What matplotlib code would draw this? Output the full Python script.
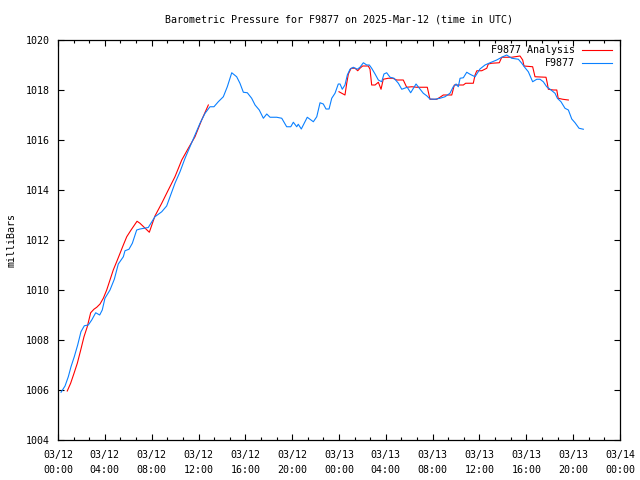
import numpy as np
import matplotlib
matplotlib.use("Agg")
import matplotlib.pyplot as plt
from matplotlib.ticker import MultipleLocator

# hours since 2025-03-12 00:00 UTC
obs_hours = [0.26, 0.60, 0.88, 1.11, 1.39, 1.68, 1.96, 2.25, 2.59, 2.88, 3.22, 3.56, 3.78,
             4.01, 4.44, 4.81, 5.15, 5.58, 5.72, 6.06, 6.35, 6.72, 7.00, 7.71, 8.28, 8.86,
             9.28, 9.57, 9.99, 10.42, 10.85, 11.27, 11.70, 12.13, 12.56, 12.98, 13.32,
             13.69, 14.12, 14.46, 14.84, 15.26, 15.54, 15.83, 16.17, 16.54, 16.83, 17.19,
             17.54, 17.83, 18.11, 18.68, 19.11, 19.53, 19.88, 20.10, 20.39, 20.52, 20.78,
             21.29, 21.81, 22.10, 22.38, 22.66, 22.89, 23.15, 23.38, 23.66, 23.94, 24.09,
             24.28, 24.51, 24.71, 24.94, 25.22, 25.56, 25.79, 26.08, 26.37, 26.59, 26.79,
             27.08, 27.36, 27.65, 27.84, 28.07, 28.36, 28.70, 29.07, 29.36, 29.83, 30.12,
             30.58, 30.86, 31.20, 31.49, 31.77, 32.20, 32.63, 33.05, 33.48, 33.76, 34.00,
             34.19, 34.34, 34.62, 34.91, 35.19, 35.62, 36.04, 36.47, 36.90, 37.47, 37.90,
             38.32, 38.75, 39.32, 39.61, 39.89, 40.17, 40.54, 40.89, 41.17, 41.45, 41.74,
             42.11, 42.45, 42.65, 42.96, 43.30, 43.59, 43.88, 44.16, 44.50, 44.87]
obs_mb = [1005.91, 1006.16, 1006.53, 1006.93, 1007.33, 1007.80, 1008.33, 1008.57, 1008.60,
          1008.80, 1009.09, 1009.00, 1009.20, 1009.67, 1010.00, 1010.43, 1011.04, 1011.33,
          1011.57, 1011.63, 1011.87, 1012.40, 1012.44, 1012.50, 1012.93, 1013.13, 1013.36,
          1013.73, 1014.27, 1014.73, 1015.27, 1015.73, 1016.20, 1016.67, 1017.07, 1017.33,
          1017.33, 1017.53, 1017.73, 1018.13, 1018.69, 1018.53, 1018.27, 1017.91, 1017.89,
          1017.67, 1017.40, 1017.20, 1016.87, 1017.04, 1016.91, 1016.91, 1016.87, 1016.53,
          1016.53, 1016.71, 1016.53, 1016.63, 1016.44, 1016.91, 1016.73, 1016.93, 1017.49,
          1017.44, 1017.24, 1017.24, 1017.67, 1017.87, 1018.24, 1018.24, 1018.03, 1018.20,
          1018.60, 1018.83, 1018.91, 1018.83, 1018.91, 1019.09, 1019.00, 1019.00, 1018.87,
          1018.64, 1018.40, 1018.33, 1018.64, 1018.69, 1018.51, 1018.47, 1018.27, 1018.03,
          1018.11, 1017.89, 1018.24, 1018.07, 1017.87, 1017.77, 1017.64, 1017.63, 1017.67,
          1017.73, 1017.87, 1018.13, 1018.24, 1018.13, 1018.47, 1018.49, 1018.71, 1018.63,
          1018.53, 1018.84, 1019.00, 1019.09, 1019.20, 1019.31, 1019.40, 1019.27, 1019.23,
          1019.07, 1018.89, 1018.73, 1018.33, 1018.43, 1018.43, 1018.33, 1018.13, 1018.00,
          1017.87, 1017.67, 1017.53, 1017.27, 1017.20, 1016.84, 1016.69, 1016.47, 1016.43]

ana_hours = [0.79, 1.08, 1.37, 1.65, 1.94, 2.22, 2.50, 2.79, 3.07, 3.31, 3.59, 3.87, 4.16,
             4.44, 4.72, 5.01, 5.30, 5.58, 5.87, 6.24, 6.75, 7.00, 7.80, 8.28, 8.86, 9.42,
             9.99, 10.57, 11.13, 11.70, 12.27, 12.84,
             18.0,
             24.00, 24.51, 24.66, 24.80, 25.03, 25.37, 25.60, 25.79, 26.02, 26.50, 26.65,
             26.79, 27.08, 27.36, 27.59, 27.78, 28.21, 28.59, 28.93, 29.49, 29.78, 30.21,
             30.64, 31.54, 31.77, 32.35, 32.63, 32.91, 33.63, 33.85, 34.62, 34.82, 35.47,
             35.62, 35.77, 36.19, 36.62, 36.75, 37.04, 37.69, 37.90, 38.75, 39.46, 39.69,
             39.80, 40.54, 40.74, 41.68, 41.79, 41.88, 42.31, 42.60, 42.72, 43.10, 43.59]
ana_mb = [1005.96, 1006.27, 1006.67, 1007.07, 1007.60, 1008.13, 1008.53, 1009.09, 1009.23,
          1009.31, 1009.44, 1009.67, 1010.00, 1010.40, 1010.80, 1011.13, 1011.47, 1011.80,
          1012.13, 1012.40, 1012.75, 1012.67, 1012.31, 1012.96, 1013.47, 1014.00, 1014.53,
          1015.20, 1015.67, 1016.13, 1016.80, 1017.40,
          np.nan,
          1017.93, 1017.80, 1018.27, 1018.64, 1018.87, 1018.87, 1018.77, 1018.87, 1018.96,
          1018.96, 1018.83, 1018.20, 1018.20, 1018.31, 1018.03, 1018.43, 1018.47, 1018.47,
          1018.40, 1018.40, 1018.11, 1018.13, 1018.11, 1018.11, 1017.63, 1017.63, 1017.71,
          1017.80, 1017.80, 1018.20, 1018.20, 1018.27, 1018.27, 1018.60, 1018.77, 1018.77,
          1018.87, 1019.04, 1019.07, 1019.09, 1019.31, 1019.31, 1019.36, 1019.20, 1018.96,
          1018.93, 1018.53, 1018.51, 1018.27, 1018.03, 1018.00, 1018.00, 1017.67, 1017.63,
          1017.60]

xtick_labels = ["03/12\n00:00", "03/12\n04:00", "03/12\n08:00", "03/12\n12:00",
                "03/12\n16:00", "03/12\n20:00", "03/13\n00:00", "03/13\n04:00",
                "03/13\n08:00", "03/13\n12:00", "03/13\n16:00", "03/13\n20:00",
                "03/14\n00:00"]

FONT = "DejaVu Sans Mono"
FS = 7.2
plt.rcParams["font.family"] = FONT
plt.rcParams["font.size"] = FS

fig = plt.figure(figsize=(6.4, 4.8), dpi=100)
ax = fig.add_axes([58 / 640, 40 / 480, 562 / 640, 400 / 480])

ax.plot(ana_hours, ana_mb, color="#ff0000", lw=0.8, label="F9877 Analysis")
ax.plot(obs_hours, obs_mb, color="#0a80ff", lw=0.8, label="F9877")

ax.set_xlim(0, 48)
ax.set_ylim(1004, 1020)
ax.set_xticks(np.arange(0, 49, 4))
ax.set_xticklabels(xtick_labels, linespacing=1.6)
ax.xaxis.set_minor_locator(MultipleLocator(4 / 3))
ax.set_yticks(np.arange(1004, 1021, 2))
ax.tick_params(axis="both", which="both", direction="in", top=True, right=True,
               labelsize=FS, width=0.8, colors="black")
ax.tick_params(axis="both", which="major", length=4.5, pad=6)
ax.tick_params(axis="x", which="minor", length=2.2)
ax.tick_params(axis="x", which="major", pad=7)
for s in ax.spines.values():
    s.set_linewidth(0.9)

fig.text(12 / 640, 0.5, "milliBars", rotation=90, ha="center", va="center", fontsize=FS)
fig.text(339 / 640, 1 - 19 / 480, "Barometric Pressure for F9877 on 2025-Mar-12 (time in UTC)",
         ha="center", va="center", fontsize=FS)

leg = ax.legend(loc="upper right", bbox_to_anchor=(612 / 640, 1 - 45 / 480),
                bbox_transform=fig.transFigure, frameon=False, markerfirst=False,
                handlelength=3.0, handletextpad=0.7, borderaxespad=0, borderpad=0,
                labelspacing=0.3, fontsize=FS)

fig.savefig("out.png", dpi=100)
